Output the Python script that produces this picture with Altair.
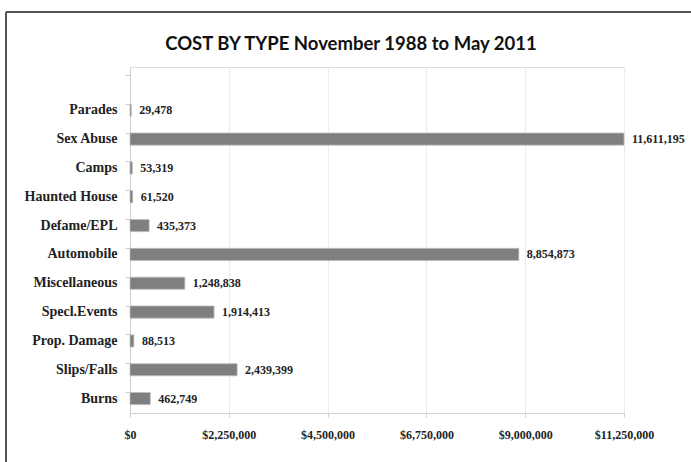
import altair as alt
import pandas as pd

categories = ["Parades", "Sex Abuse", "Camps", "Haunted House", "Defame/EPL",
              "Automobile", "Miscellaneous", "Specl.Events", "Prop. Damage",
              "Slips/Falls", "Burns"]
costs = [29478, 11611195, 53319, 61520, 435373, 8854873, 1248838, 1914413,
         88513, 2439399, 462749]
x_ticks = [0, 2250000, 4500000, 6750000, 9000000, 11250000]

df = pd.DataFrame({"type": categories, "cost": costs})
y_domain = [" "] + categories

serif = "Liberation Serif"

y = alt.Y("type:N", sort=None,
          scale=alt.Scale(domain=y_domain, paddingInner=0.58, paddingOuter=0.29),
          axis=alt.Axis(title=None, labelFont=serif, labelFontWeight="bold",
                        labelFontSize=14, labelColor="#222222", labelPadding=8,
                        tickSize=5, tickColor="#cfcfcf", domainColor="#cfcfcf",
                        bandPosition=0, grid=False))
x = alt.X("cost:Q",
          scale=alt.Scale(domain=[0, 11250000], clamp=True, nice=False),
          axis=alt.Axis(title=None, values=x_ticks, format="$,.0f",
                        labelFont=serif, labelFontWeight="bold", labelFontSize=12,
                        labelColor="#222222", labelPadding=12, ticks=True,
                        tickSize=4, tickColor="#d0d0d0", domainColor="#d0d0d0",
                        grid=True, gridColor="#ececec", labelFlush=False))

bars = alt.Chart(df).mark_bar(color="#7f7f7f", stroke="#bdbdbd",
                              strokeWidth=0.8).encode(x=x, y=y)

labels = alt.Chart(df).mark_text(align="left", baseline="middle", dx=8,
                                 font=serif, fontWeight="bold", fontSize=12,
                                 color="#222222").encode(
    x=alt.X("cost:Q", scale=alt.Scale(domain=[0, 11250000], clamp=True, nice=False)),
    y=alt.Y("type:N", sort=None, scale=alt.Scale(domain=y_domain)),
    text=alt.Text("cost:Q", format=",.0f"))

border_top = alt.Chart(df).mark_rule(color="#555555", strokeWidth=2).encode(
    x=alt.value(-124), x2=alt.value(561), y=alt.value(-55))
border_left = alt.Chart(df).mark_rule(color="#555555", strokeWidth=2).encode(
    x=alt.value(-124), y=alt.value(-55), y2=alt.value(395))

chart = alt.layer(bars, labels, border_top, border_left).properties(
    width=494, height=346,
    autosize=alt.AutoSizeParams(type="none"),
    padding={"left": 130, "top": 67, "right": 67, "bottom": 49},
    title=alt.TitleParams("COST BY TYPE November 1988 to May 2011",
                          font="Lato", fontSize=18.5, fontWeight="bold",
                          color="#111111", anchor="middle", dx=-26, dy=54,
                          offset=12),
).configure_view(stroke=None).configure(background="white")

chart.save("out.html", embed_options={"renderer": "svg", "actions": False})
